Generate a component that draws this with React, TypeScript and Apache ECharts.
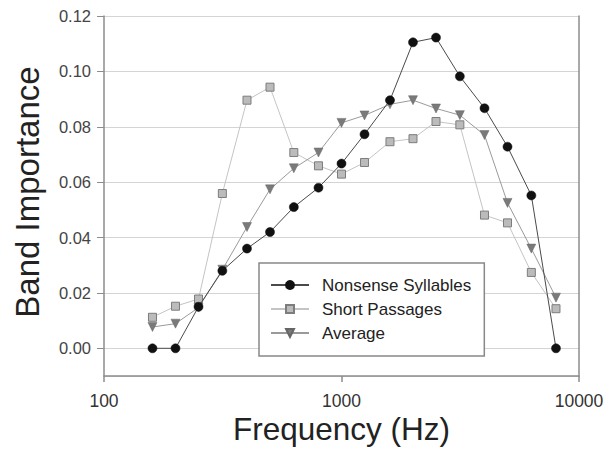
import React, { useEffect, useRef } from "react";
import * as echarts from "echarts";

// One-third-octave band centre frequencies (Hz)
const frequencies = [
  160, 200, 250, 315, 400, 500, 630, 800, 1000, 1250, 1600, 2000, 2500, 3150,
  4000, 5000, 6300, 8000,
];

// Band importance functions
const nonsenseSyllables = [
  0, 0, 0.015, 0.028, 0.036, 0.042, 0.051, 0.058, 0.0667, 0.0773, 0.0896,
  0.1105, 0.1122, 0.0982, 0.0867, 0.0728, 0.0552, 0,
];
const shortPassages = [
  0.0112, 0.0152, 0.0178, 0.0559, 0.0896, 0.0943, 0.0707, 0.0659, 0.0629,
  0.0671, 0.0746, 0.0757, 0.0819, 0.0807, 0.0481, 0.0453, 0.0274, 0.0143,
];
const average = [
  0.0077, 0.0089, 0.0147, 0.0284, 0.0438, 0.0574, 0.065, 0.0707, 0.0814,
  0.0841, 0.0881, 0.0896, 0.0866, 0.0842, 0.077, 0.0525, 0.036, 0.0183,
];

const seriesNames = ["Nonsense Syllables", "Short Passages", "Average"];
const xTitle = "Frequency (Hz)";
const yTitle = "Band Importance";

const FONT = '"Liberation Sans", Arial, Helvetica, sans-serif';

const pairs = (values: number[]) => frequencies.map((f, i) => [f, values[i]]);

export default function App() {
  const ref = useRef<HTMLDivElement>(null);

  useEffect(() => {
    if (!ref.current) return;
    const chart = echarts.init(ref.current, undefined, { renderer: "svg" });

    chart.setOption({
      animation: false,
      backgroundColor: "#ffffff",
      textStyle: { fontFamily: FONT },
      grid: {
        left: 104,
        right: 34,
        top: 16,
        bottom: 78,
        containLabel: false,
        outerBoundsMode: "none",
      },
      xAxis: {
        type: "log",
        logBase: 10,
        min: 100,
        max: 10000,
        axisLine: {
          show: true,
          onZero: false,
          lineStyle: { color: "#8c8c8c", width: 1.5 },
        },
        axisTick: {
          show: true,
          inside: false,
          length: 6,
          lineStyle: { color: "#8c8c8c", width: 1.5 },
        },
        axisLabel: {
          margin: 16,
          fontSize: 17.5,
          color: "#333",
          fontFamily: FONT,
          formatter: (v: number) => String(Math.round(v)),
        },
        splitLine: { show: false },
        minorTick: { show: false },
      },
      yAxis: [
        {
          type: "value",
          min: -0.01,
          max: 0.12,
          splitNumber: 6,
          axisLine: { show: true, lineStyle: { color: "#8c8c8c", width: 1.5 } },
          axisTick: {
            show: true,
            inside: false,
            length: 7,
            lineStyle: { color: "#8c8c8c", width: 1 },
          },
          axisLabel: {
            margin: 13,
            fontSize: 16.5,
            color: "#444",
            fontFamily: FONT,
            showMinLabel: false,
            formatter: (v: number) => v.toFixed(2),
          },
          splitLine: { show: true, lineStyle: { color: "#d4d4d4", width: 1 } },
        },
        {
          type: "value",
          position: "right",
          min: -0.01,
          max: 0.12,
          axisLine: { show: true, lineStyle: { color: "#8c8c8c", width: 1.5 } },
          axisTick: { show: false },
          axisLabel: { show: false },
          splitLine: { show: false },
        },
      ],
      legend: {
        orient: "vertical",
        left: 259,
        top: 263,
        padding: [12, 13, 13, 11],
        itemWidth: 38,
        itemHeight: 10,
        itemGap: 4,
        borderColor: "#888",
        borderWidth: 1.5,
        backgroundColor: "#ffffff",
        data: seriesNames,
        textStyle: {
          fontSize: 17,
          lineHeight: 20,
          color: "#222",
          fontFamily: FONT,
          padding: [0, 0, 0, 8],
        },
      },
      series: [
        {
          name: seriesNames[0],
          type: "line",
          data: pairs(nonsenseSyllables),
          symbol: "circle",
          symbolSize: 9,
          z: 4,
          lineStyle: { color: "#4a4a4a", width: 1 },
          itemStyle: { color: "#111", borderColor: "#111", borderWidth: 0.5 },
        },
        {
          name: seriesNames[1],
          type: "line",
          data: pairs(shortPassages),
          symbol: "rect",
          symbolSize: 8,
          z: 2,
          lineStyle: { color: "#c4c4c4", width: 1 },
          itemStyle: { color: "#bbbbbb", borderColor: "#7d7d7d", borderWidth: 1 },
        },
        {
          name: seriesNames[2],
          type: "line",
          data: pairs(average),
          symbol: "triangle",
          symbolRotate: 180,
          symbolSize: 9,
          z: 3,
          lineStyle: { color: "#9a9a9a", width: 1 },
          itemStyle: { color: "#7a7a7a", borderColor: "#666", borderWidth: 0.5 },
        },
      ],
      graphic: [
        {
          type: "text",
          x: 341.5,
          y: 429,
          style: {
            text: xTitle,
            font: `31.5px ${FONT}`,
            fill: "#222",
            textAlign: "center",
            textVerticalAlign: "middle",
          },
        },
        {
          type: "text",
          x: 27.5,
          y: 192,
          rotation: Math.PI / 2,
          style: {
            text: yTitle,
            font: `33px ${FONT}`,
            fill: "#222",
            textAlign: "center",
            textVerticalAlign: "middle",
          },
        },
      ],
    });

    return () => chart.dispose();
  }, []);

  return (
    <div
      ref={ref}
      style={{ position: "fixed", left: 0, top: 0, width: 613, height: 454 }}
    />
  );
}
